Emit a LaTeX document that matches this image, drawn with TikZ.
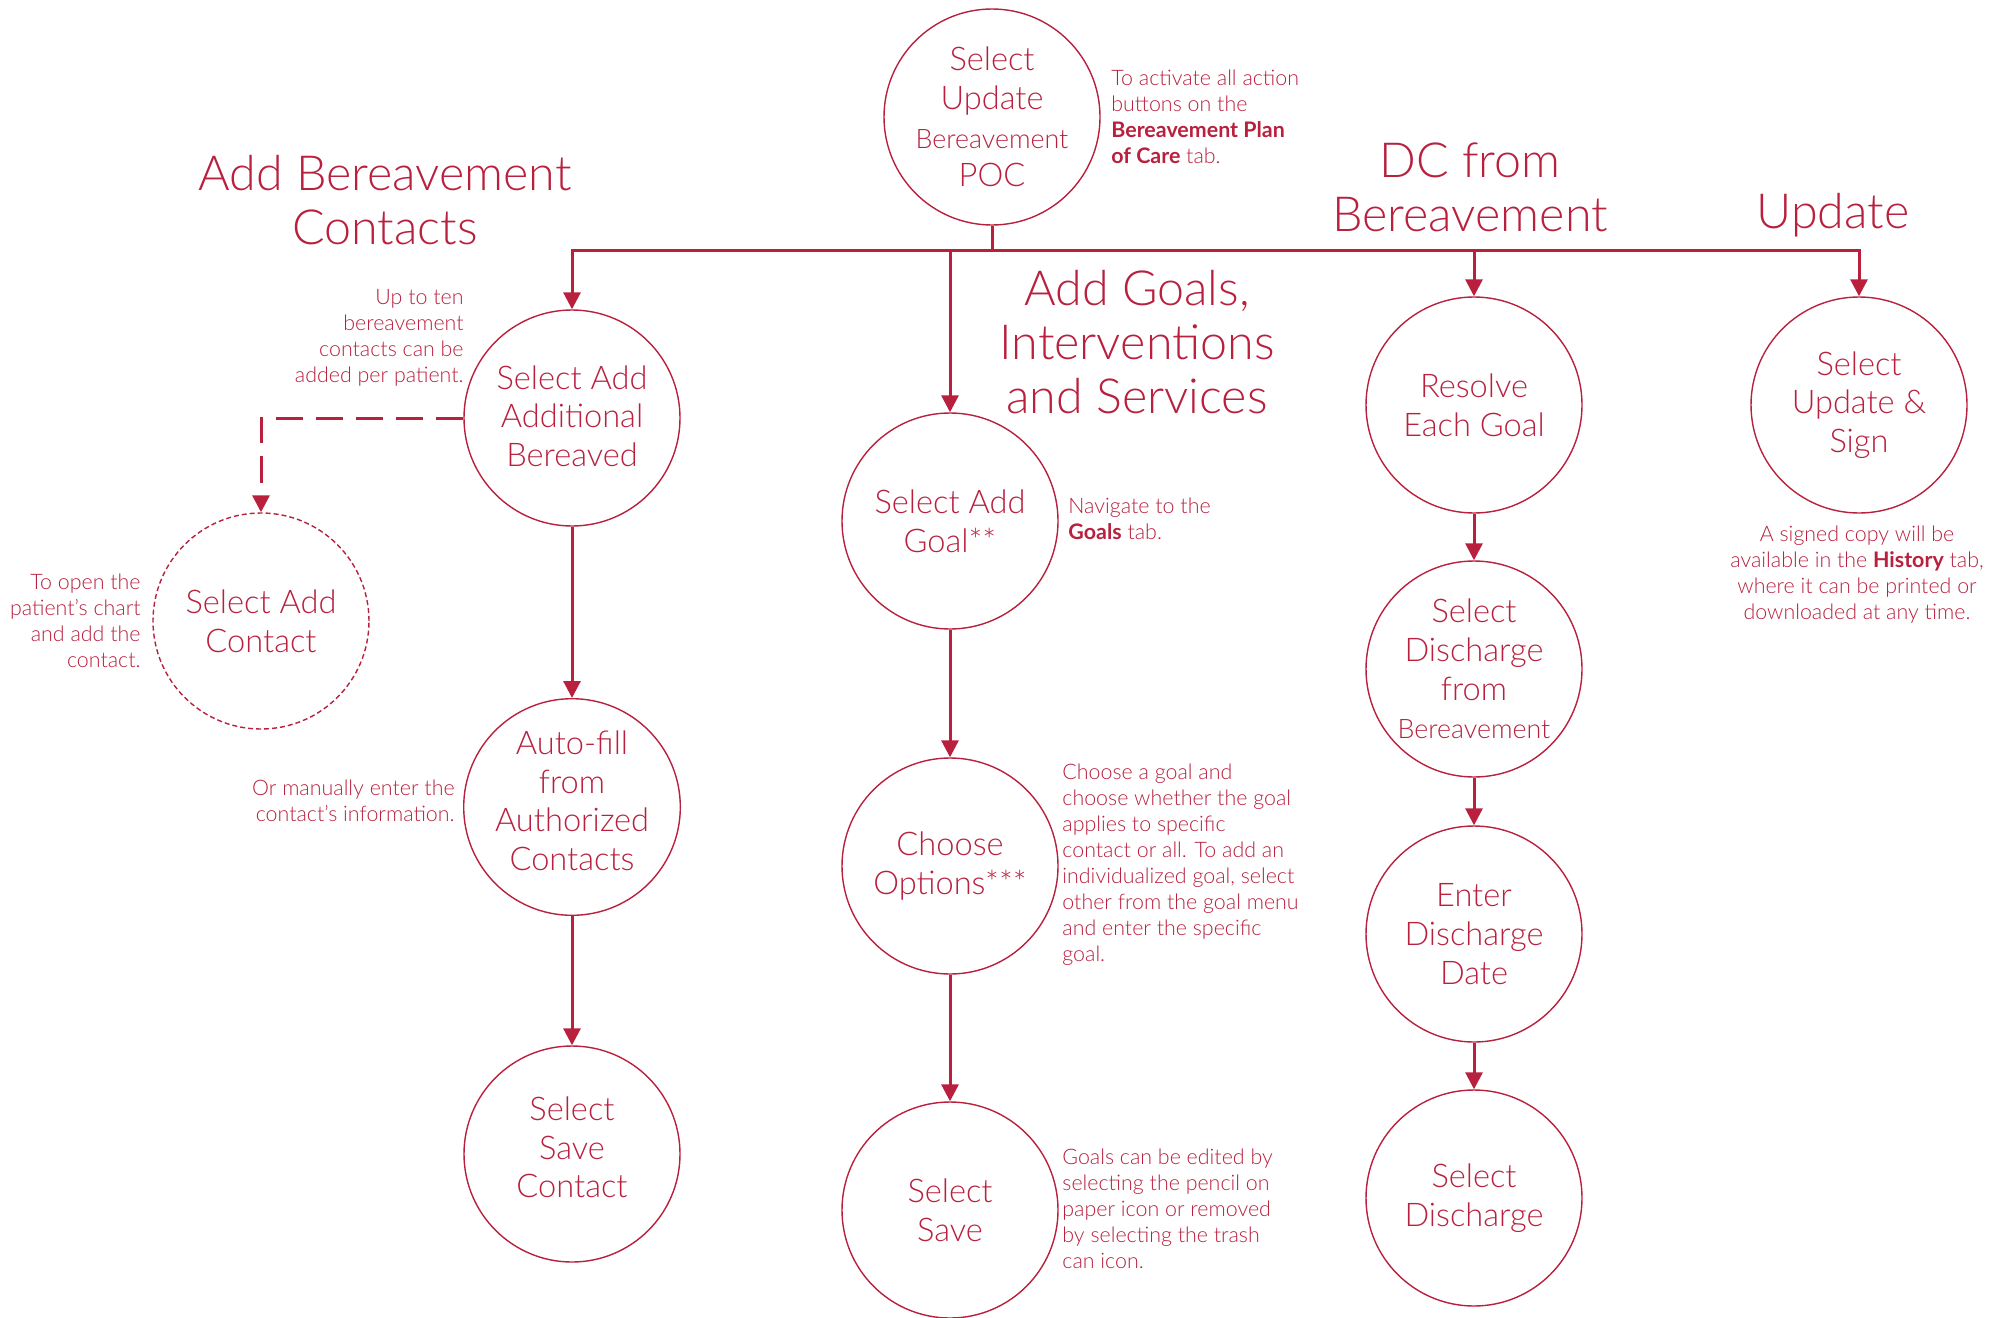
\documentclass[tikz,border=0pt]{standalone}
\usepackage{fontspec}
\setmainfont{Lato Light}[BoldFont={Lato Bold}]
\usetikzlibrary{positioning,arrows.meta}
\definecolor{brc}{RGB}{184,32,62}
\tikzset{
	stepc/.style={circle, draw=brc, line width=0.7pt, minimum size=108pt, inner sep=0pt, align=center, text=brc, font=\fontsize{16.3}{19.3}\selectfont},
	note/.style={text=brc, inner sep=0pt, font=\fontsize{10.7}{13}\selectfont},
	head/.style={text=brc, inner sep=0pt, align=center, font=\fontsize{24.2}{27}\selectfont},
	flow/.style={draw=brc, line width=1.5pt, -{Triangle[length=8.5pt,width=8.5pt]}},
}
\newcommand{\smallber}{{\fontsize{13.4}{19.3}\selectfont Bereavement}}

\begin{document}
\begin{tikzpicture}[x=0.5pt,y=-0.5pt]
				\useasboundingbox (0,0) rectangle (2007,1317);
				% headings
				\node[head, anchor=north] (hcon) at (385,155) {Add Bereavement\\Contacts};
				\node[head, anchor=north] (hgoal) at (1137,270) {Add Goals,\\Interventions\\and Services};
				\node[head, anchor=north] (hdc) at (1470,142) {DC from\\Bereavement};
				\node[head, anchor=north] (hupd) at (1833,193) {Update};
				% steps
				\node[stepc] (updpoc) at (992,117) {Select\\Update\\\smallber\\POC};
				\node[stepc, text depth=2pt] (addber) at (572,418) {Select Add\\Additional\\Bereaved};
				\node[stepc, dash pattern=on 2.5pt off 1.5pt] (addcon) at (261,621) {Select Add\\Contact};
				\node[stepc, text depth=6.5pt] (autofill) at (572,807) {Auto-fill\\from\\Authorized\\Contacts};
				\node[stepc, text depth=6.5pt] (savecon) at (572,1154) {Select\\Save\\Contact};
				\node[stepc] (addgoal) at (950,521) {Select Add\\Goal**};
				\node[stepc] (chopt) at (950,866) {Choose\\Options***};
				\node[stepc] (savegoal) at (950,1210) {Select\\Save};
				\node[stepc] (resolve) at (1474,405) {Resolve\\Each Goal};
				\node[stepc] (seldc) at (1474,669) {Select\\Discharge\\from\\\smallber};
				\node[stepc] (dcdate) at (1474,934) {Enter\\Discharge\\Date};
				\node[stepc] (seldis) at (1474,1198) {Select\\Discharge};
				\node[stepc] (updsign) at (1859,405) {Select\\Update \&\\Sign};
				% notes
				\node[note, anchor=north west, align=left] (nact) at (1111,70) {To activate all action\\buttons on the\\\textbf{Bereavement Plan}\\\textbf{of Care} tab.};
				\node[note, anchor=north east, align=right] (nten) at (464,289) {Up to ten\\bereavement\\contacts can be\\added per patient.};
				\node[note, anchor=north east, align=right] (nopen) at (141,574) {To open the\\patient’s chart\\and add the\\contact.};
				\node[note, anchor=north east, align=right] (nman) at (455,780) {Or manually enter the\\contact’s information.};
				\node[note, anchor=north west, align=left] (nnav) at (1068,498) {Navigate to the\\\textbf{Goals} tab.};
				\node[note, anchor=north west, align=left] (ngoal) at (1062,764) {Choose a goal and\\choose whether the goal\\applies to specific\\contact or all. To add an\\individualized goal, select\\other from the goal menu\\and enter the specific\\goal.};
				\node[note, anchor=north west, align=left] (nedit) at (1062,1149) {Goals can be edited by\\selecting the pencil on\\paper icon or removed\\by selecting the trash\\can icon.};
				\node[note, anchor=north, align=center] (nsign) at (1857,526) {A signed copy will be\\available in the \textbf{History} tab,\\where it can be printed or\\downloaded at any time.};
				% connectors
				\draw[flow] (updpoc.south) -- ++(0,25) -| (addber.north);
				\draw[flow] (updpoc.south) -- ++(0,25) -| (addgoal.north);
				\draw[flow] (updpoc.south) -- ++(0,25) -| (resolve.north);
				\draw[flow] (updpoc.south) -- ++(0,25) -| (updsign.north);
				\draw[flow, dash pattern=on 13.5pt off 6.5pt] (addber.west) -| (addcon.north);
				\draw[flow] (addber) -- (autofill);
				\draw[flow] (autofill) -- (savecon);
				\draw[flow] (addgoal) -- (chopt);
				\draw[flow] (chopt) -- (savegoal);
				\draw[flow] (resolve) -- (seldc);
				\draw[flow] (seldc) -- (dcdate);
				\draw[flow] (dcdate) -- (seldis);
\end{tikzpicture}
\end{document}
